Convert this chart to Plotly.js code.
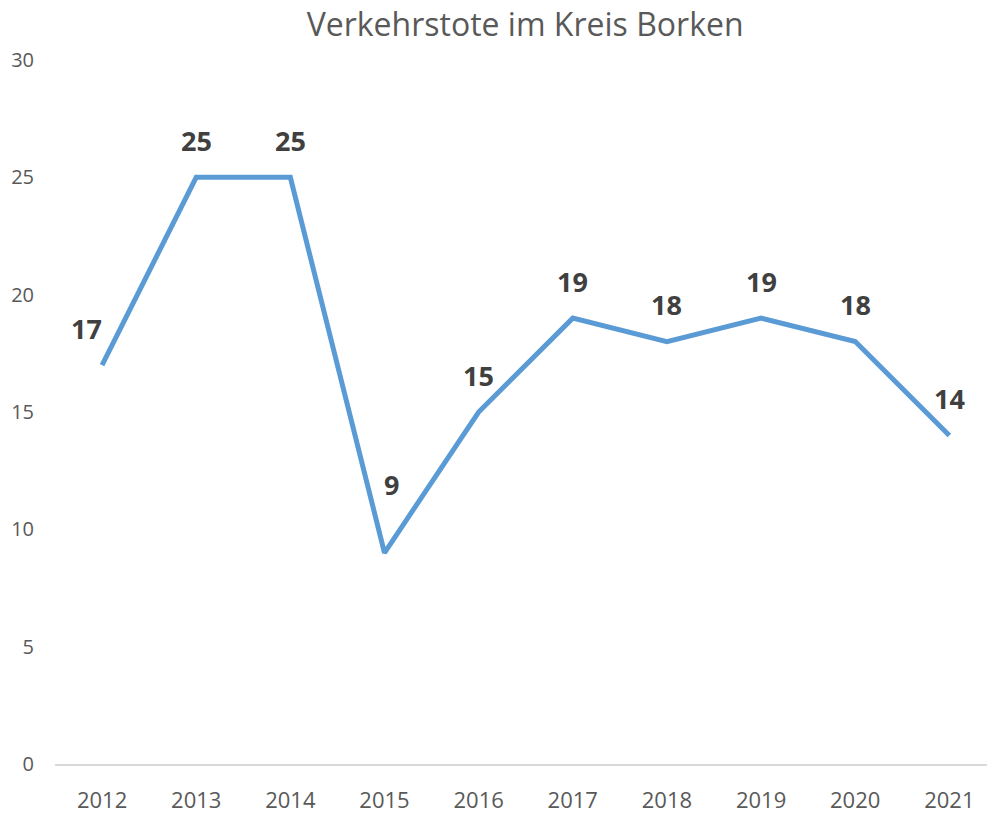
<!DOCTYPE html>
<html>
<head>
<meta charset="utf-8">
<script src="https://cdn.plot.ly/plotly-3.0.1.min.js"></script>
<style>html,body{margin:0;padding:0;background:#fff;}#chart{width:987px;height:814px;}</style>
</head>
<body>
<div id="chart"></div>
<script>
var years = ["2012","2013","2014","2015","2016","2017","2018","2019","2020","2021"];
var deaths = [17, 25, 25, 9, 15, 19, 18, 19, 18, 14];
var yTicks = [0, 5, 10, 15, 20, 25, 30];

// label placement nudges (pixels): default above the point
var labelNudge = {"2012": [-16, 37], "2015": [7, 68]};

var annotations = [];
for (var i = 0; i < years.length; i++) {
  var n = labelNudge[years[i]] || [0, 37];
  annotations.push({
    x: i, y: deaths[i], xref: "x", yref: "y",
    text: "<b>" + deaths[i] + "</b>", showarrow: false,
    xshift: n[0], yshift: n[1],
    font: {family: "Open Sans", size: 27, color: "#404040"}
  });
}

var trace = {
  x: years, y: deaths, type: "scatter", mode: "lines",
  line: {color: "#5B9BD5", width: 5},
  hoverinfo: "x+y"
};

var layout = {
  width: 987, height: 814,
  margin: {l: 55, r: 0, t: 60, b: 50},
  paper_bgcolor: "#fff", plot_bgcolor: "#fff",
  showlegend: false,
  title: {
    text: "Verkehrstote im Kreis Borken",
    font: {family: "Open Sans", size: 32, color: "#595959"},
    x: 0.532, xref: "container", xanchor: "center",
    y: 0.97, yref: "container", yanchor: "middle"
  },
  xaxis: {
    type: "category", range: [-0.5, 9.4],
    showgrid: false, zeroline: false,
    showline: true, linecolor: "#D9D9D9", linewidth: 2,
    ticks: "", ticklabelstandoff: 16,
    tickfont: {family: "Open Sans", size: 22, color: "#595959"}
  },
  yaxis: {
    range: [0, 30], tickvals: yTicks,
    showgrid: false, zeroline: false, showline: false,
    ticks: "", ticklabelstandoff: 20,
    tickfont: {family: "Open Sans", size: 20, color: "#595959"}
  },
  annotations: annotations
};

Plotly.newPlot("chart", [trace], layout, {displayModeBar: false, staticPlot: true});
</script>
</body>
</html>
